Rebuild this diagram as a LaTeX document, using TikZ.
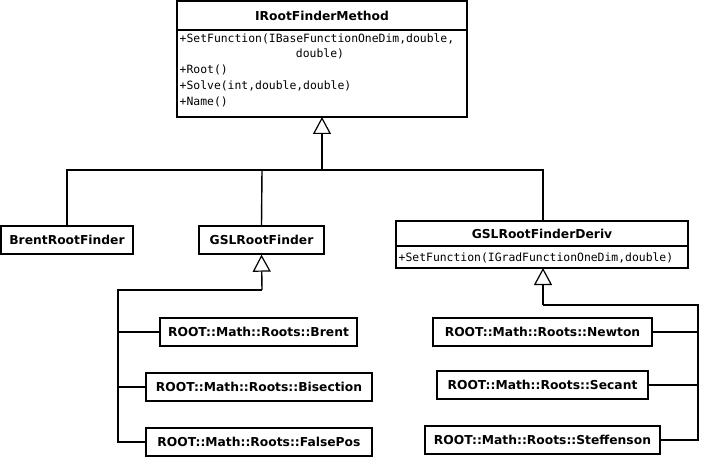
\documentclass[tikz,border=0pt]{standalone}
\usepackage{fontspec}
\setmainfont{DejaVu Sans}
\setmonofont{DejaVu Sans Mono}
\usetikzlibrary{arrows.meta}
\begin{document}
\begin{tikzpicture}[x=1pt,y=-1pt,line width=1.4pt,
  cls/.style={draw,fill=white,font=\bfseries\fontsize{12.3}{14}\selectfont,inner sep=0pt},
  ttl/.style={font=\bfseries\fontsize{12.3}{14}\selectfont},
  meth/.style={font=\ttfamily\fontsize{11.4}{15.5}\selectfont,anchor=north west,align=left,inner sep=0pt},
  inh/.style={-{Triangle[open,length=17pt,width=18pt,line width=1.2pt]}}]
\useasboundingbox (0,0) rectangle (701,457);
% IRootFinderMethod
\draw[fill=white] (177,1) rectangle (467,117);
\draw (177,30) -- (467,30);
\node[ttl] (irf) at (322,16) {IRootFinderMethod};
\coordinate (irfb) at (322,117);
\node[meth] (m1) at (179,33) {+SetFunction(IBaseFunctionOneDim,double,\\\hspace*{10.2em}double)};
\node[meth] (m2) at (179,64) {+Root()};
\node[meth] (m3) at (179,80) {+Solve(int,double,double)};
\node[meth] (m4) at (179,96) {+Name()};
% second level
\node[cls,minimum width=132pt,minimum height=28pt] (brent) at (67,240) {BrentRootFinder};
\node[cls,minimum width=125pt,minimum height=28pt] (gsl) at (261.5,240) {GSLRootFinder};
\draw[fill=white] (396,221) rectangle (688,268);
\draw (396,246) -- (688,246);
\node[ttl] (gd) at (542,234) {GSLRootFinderDeriv};
\node[meth,anchor=west] (gdm) at (398,258) {+SetFunction(IGradFunctionOneDim,double)};
\coordinate (gdt) at (543,221);
\coordinate (gdb) at (543,268);
% leaves
\node[cls,minimum width=197pt,minimum height=28pt] (l1) at (258.5,332) {ROOT::Math::Roots::Brent};
\node[cls,minimum width=226pt,minimum height=28pt] (l2) at (259,387) {ROOT::Math::Roots::Bisection};
\node[cls,minimum width=226pt,minimum height=28pt] (l3) at (259,442) {ROOT::Math::Roots::FalsePos};
\node[cls,minimum width=219pt,minimum height=28pt] (r1) at (542.5,332) {ROOT::Math::Roots::Newton};
\node[cls,minimum width=211pt,minimum height=28pt] (r2) at (542.5,385) {ROOT::Math::Roots::Secant};
\node[cls,minimum width=235pt,minimum height=28pt] (r3) at (542.5,440) {ROOT::Math::Roots::Steffenson};
% top inheritance
\coordinate (j1) at (322,170);
\draw (brent.north) |- (66,170) -- (543,170) -- (gdt);
\draw (gsl.north) -- (262,170);
\draw[inh] (j1) -- (irfb);
% gsl inheritance
\draw (l3.west) -| (118,290) -- (262,290);
\draw (l2.west) -- (118,387);
\draw (l1.west) -- (118,332);
\draw[inh] (262,290) -- (gsl.south);
% deriv inheritance
\draw (r3.east) -| (698,305) -- (543,305);
\draw (r2.east) -- (698,385);
\draw (r1.east) -- (698,332);
\draw[inh] (543,305) -- (gdb);
\end{tikzpicture}
\end{document}
